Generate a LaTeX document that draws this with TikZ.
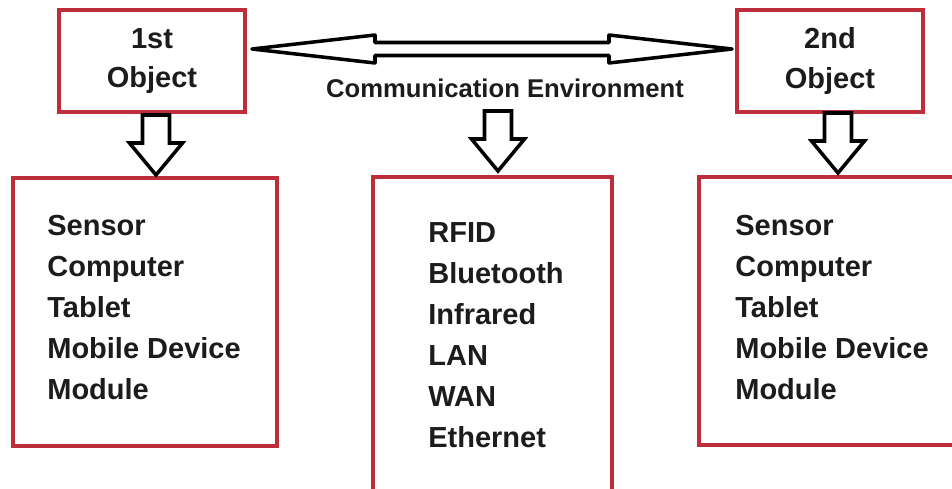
\documentclass[tikz,border=0pt]{standalone}
\usepackage{fontspec}
\setmainfont{Liberation Sans}
\usepackage{tikz}
\usetikzlibrary{calc}
\definecolor{boxred}{RGB}{190,45,58}
\definecolor{inkgray}{RGB}{28,28,28}

\begin{document}
\begin{tikzpicture}[
    redbox/.style={draw=boxred, line width=2.2pt, inner sep=0pt, outer sep=0pt},
    itemtext/.style={text=inkgray, font=\bfseries\fontsize{16.5}{23.3}\selectfont, align=left, inner sep=0pt},
    fatline/.style={draw=black, line width=2pt},
    downarrow/.pic={\draw[fatline] (-0.27,1.2) -- (0.27,1.2) -- (0.27,0.64) -- (0.53,0.64) -- (0,0) -- (-0.53,0.64) -- (-0.27,0.64) -- cycle;}
  ]
  \useasboundingbox (0,0) rectangle (19.04,-9.78);

  % Objects on top
  \node[redbox, minimum width=3.72cm, minimum height=2.04cm, text=inkgray, align=center,
        font=\bfseries\fontsize{16.5}{22.7}\selectfont] (obj1) at (3.04,-1.22) {1st\\Object};
  \node[redbox, minimum width=3.72cm, minimum height=2.04cm, text=inkgray, align=center,
        font=\bfseries\fontsize{16.5}{22.7}\selectfont] (obj2) at (16.6,-1.22) {2nd\\Object};

  % Double arrow between the objects
  \coordinate (ltip) at ($(obj1.east)+(0.14,0.24)$);
  \coordinate (rtip) at ($(obj2.west)+(-0.1,0.24)$);
  \draw[fatline, line join=round] (ltip) -- ++(2.46,0.28) -- ++(0,-0.15) -- ($(rtip)+(-2.46,0.13)$) -- ++(0,0.15) -- (rtip)
    -- ++(-2.46,-0.28) -- ++(0,0.15) -- ($(ltip)+(2.46,-0.13)$) -- ++(0,-0.15) -- cycle;
  \node[text=inkgray, font=\bfseries\fontsize{14.6}{17}\selectfont, anchor=base] (comm) at (10.1,-1.94) {Communication Environment};

  % Lower boxes
  \node[redbox, minimum width=5.28cm, minimum height=5.36cm] (lbox) at (2.9,-6.24) {};
  \node[redbox, minimum width=4.78cm, minimum height=6.46cm] (mbox) at (9.85,-6.77) {};
  \node[redbox, minimum width=5.32cm, minimum height=5.36cm] (rbox) at (16.64,-6.22) {};

  \node[itemtext, anchor=north west] (llist) at ($(lbox.north west)+(0.68,-0.74)$) {Sensor\\Computer\\Tablet\\Mobile Device\\Module};
  \node[itemtext, anchor=north west] (mlist) at ($(mbox.north west)+(1.1,-0.9)$) {RFID\\Bluetooth\\Infrared\\LAN\\WAN\\Ethernet};
  \node[itemtext, anchor=north west] (rlist) at ($(rbox.north west)+(0.72,-0.76)$) {Sensor\\Computer\\Tablet\\Mobile Device\\Module};

  % Down arrows
  \pic at ($(lbox.north)+(0.22,0.06)$) {downarrow};
  \pic at ($(mbox.north)+(0.11,0.12)$) {downarrow};
  \pic at ($(rbox.north)+(0.12,0.08)$) {downarrow};
\end{tikzpicture}
\end{document}
